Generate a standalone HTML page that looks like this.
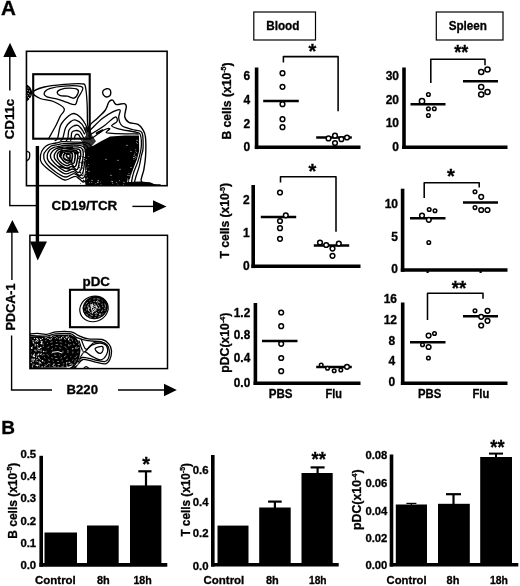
<!DOCTYPE html>
<html lang="en"><head><meta charset="utf-8"><title>Figure</title>
<style>
html,body{margin:0;padding:0;background:#fff;}
svg{display:block;font-family:"Liberation Sans", Arial, Helvetica, sans-serif;}
svg text{fill:#000;stroke:#000;stroke-width:0.3px;}
</style></head>
<body>
<svg width="520" height="586" viewBox="0 0 520 586">
<rect x="0" y="0" width="520" height="586" fill="#fff"/>
<defs><clipPath id="clip1"><rect x="26" y="51" width="141.5" height="135.4"/></clipPath><clipPath id="clip2"><rect x="29.8" y="235" width="137.7" height="133.7"/></clipPath></defs>
<g clip-path="url(#clip1)">
<path d="M48.8,138.4 C49.2,137.8 49.7,136.7 51.0,134.4 C52.2,132.1 54.8,127.7 56.3,124.8 C57.8,121.8 58.8,119.2 60.1,116.5 C61.4,113.8 65.3,111.2 64.2,108.7 C63.1,106.2 57.4,103.2 53.4,101.5 C49.4,99.8 43.5,100.0 40.2,98.5 C36.8,96.9 32.5,94.0 33.2,92.1 C33.9,90.2 39.1,88.3 44.3,87.0 C49.5,85.8 58.1,85.0 64.4,84.4 C70.8,83.9 78.6,83.5 82.1,83.9 C85.6,84.2 84.5,83.4 85.4,86.7 C86.2,90.0 86.8,97.8 87.1,103.6 C87.5,109.3 87.2,116.5 87.4,121.0 C87.6,125.5 88.3,128.9 88.4,130.5" fill="none" stroke="#000" stroke-width="1.3" stroke-linejoin="round" stroke-linecap="round"/>
<path d="M44.3,92.8 C44.7,91.5 46.3,89.7 49.6,88.6 C52.9,87.5 59.0,86.4 64.2,86.1 C69.3,85.7 77.6,85.7 80.6,86.4 C83.6,87.1 82.9,88.3 82.4,90.2 C81.9,92.2 79.0,95.8 77.8,98.2 C76.6,100.6 77.0,103.9 75.2,104.6 C73.4,105.3 69.9,103.4 67.0,102.4 C64.0,101.5 60.9,100.0 57.6,99.1 C54.3,98.1 49.2,97.8 47.0,96.8 C44.8,95.8 43.8,94.2 44.3,92.8Z" fill="none" stroke="#000" stroke-width="1.3" stroke-linejoin="round" stroke-linecap="round"/>
<path d="M57.2,92.7 C57.2,91.7 58.2,90.4 60.3,89.6 C62.3,88.9 66.7,88.2 69.6,88.2 C72.5,88.2 76.2,88.7 77.6,89.6 C79.0,90.5 78.5,92.2 77.9,93.6 C77.3,95.1 75.8,97.8 74.0,98.2 C72.2,98.6 69.5,96.7 67.2,96.2 C64.9,95.8 62.0,96.2 60.3,95.6 C58.7,95.0 57.3,93.7 57.2,92.7Z" fill="none" stroke="#000" stroke-width="1.3" stroke-linejoin="round" stroke-linecap="round"/>
<path d="M55.2,140.5 C55.6,140.2 56.7,141.0 57.6,138.4 C58.5,135.8 59.0,128.7 60.8,124.9 C62.6,121.2 66.3,117.9 68.5,116.0 C70.7,114.1 72.0,113.3 74.0,113.5 C76.0,113.7 78.5,115.3 80.4,117.2 C82.4,119.1 84.4,122.4 85.7,124.8 C86.9,127.2 87.4,130.6 87.7,131.7" fill="none" stroke="#000" stroke-width="1.3" stroke-linejoin="round" stroke-linecap="round"/>
<path d="M60.8,140.4 C61.1,140.1 62.0,140.3 62.8,138.2 C63.6,136.1 64.3,130.6 65.6,127.8 C67.0,125.0 69.2,122.6 70.9,121.4 C72.6,120.1 74.0,119.6 75.8,120.1 C77.7,120.6 80.4,122.4 82.1,124.4 C83.7,126.3 85.2,130.6 85.8,131.9" fill="none" stroke="#000" stroke-width="1.3" stroke-linejoin="round" stroke-linecap="round"/>
<path d="M66.4,140.5 C66.7,140.1 67.5,139.8 67.9,138.1 C68.3,136.4 68.1,132.3 68.9,130.3 C69.8,128.4 71.5,127.1 73.0,126.3 C74.5,125.5 76.4,125.0 77.8,125.4 C79.3,125.9 80.5,127.7 81.7,129.1 C82.8,130.5 84.1,133.1 84.5,133.9" fill="none" stroke="#000" stroke-width="1.3" stroke-linejoin="round" stroke-linecap="round"/>
<path d="M70.7,140.4 C70.8,140.1 70.9,139.7 71.1,138.4 C71.3,137.0 71.2,133.6 71.9,132.3 C72.6,131.0 74.0,130.8 75.3,130.6 C76.5,130.4 78.3,130.7 79.4,131.3 C80.5,132.0 81.1,133.4 81.8,134.5 C82.6,135.7 83.5,137.7 83.8,138.4" fill="none" stroke="#000" stroke-width="1.3" stroke-linejoin="round" stroke-linecap="round"/>
<path d="M74.3,139.1 C74.5,138.4 74.7,135.9 75.4,135.1 C76.0,134.4 77.6,134.2 78.4,134.6 C79.2,135.0 79.7,136.7 80.3,137.6 C80.8,138.6 81.5,139.8 81.8,140.2" fill="none" stroke="#000" stroke-width="1.3" stroke-linejoin="round" stroke-linecap="round"/>
<path d="M26.5,84.5 C29.5,85.5 31.8,89 32.3,92.5 C31.8,96.5 29.5,100 26.5,101.5 Z" fill="#000"/>
<circle cx="28" cy="88" r="0.55" fill="#fff"/>
<circle cx="29.5" cy="91" r="0.55" fill="#fff"/>
<circle cx="28.2" cy="93.5" r="0.55" fill="#fff"/>
<circle cx="30" cy="95" r="0.55" fill="#fff"/>
<circle cx="28.5" cy="97.5" r="0.55" fill="#fff"/>
<circle cx="27.6" cy="90.5" r="0.55" fill="#fff"/>
<circle cx="29.4" cy="98.6" r="0.55" fill="#fff"/>
<circle cx="27.5" cy="95.8" r="0.55" fill="#fff"/>
<path d="M26.3,151.0 C26.8,151.3 28.8,151.8 29.4,152.6 C29.9,153.4 29.7,154.7 29.7,155.7 C29.6,156.7 29.6,157.7 29.1,158.6 C28.6,159.5 27.1,160.6 26.7,161.0" fill="none" stroke="#000" stroke-width="1.3" stroke-linejoin="round" stroke-linecap="round"/>
<path d="M106.8,88.7 C107.8,88.6 109.1,88.9 109.8,89.6 C110.5,90.3 110.8,91.6 110.8,92.7 C110.8,93.7 110.5,95.1 109.8,95.8 C109.0,96.6 107.2,97.1 106.2,97.0 C105.1,96.9 104.2,96.0 103.6,95.2 C103.0,94.4 102.6,93.0 102.6,92.2 C102.7,91.3 103.1,90.6 103.8,90.0 C104.5,89.5 105.8,88.8 106.8,88.7Z" fill="none" stroke="#000" stroke-width="1.4" stroke-linejoin="round" stroke-linecap="round"/>
<path d="M40.6,154.9 C40.9,152.6 42.0,150.4 43.4,148.7 C44.7,147.0 46.4,145.6 48.5,144.7 C50.6,143.7 53.7,143.5 56.0,143.0 C58.3,142.5 59.4,141.9 62.4,141.7 C65.4,141.6 70.6,142.0 74.2,142.1 C77.8,142.2 81.5,142.0 84.2,142.5 C86.9,143.0 88.9,143.1 90.2,144.9 C91.5,146.7 91.9,149.8 91.8,153.3 C91.8,156.8 90.6,162.0 89.9,166.0 C89.2,170.0 88.8,174.5 87.7,177.2 C86.6,179.8 85.4,182.1 83.4,181.9 C81.3,181.8 78.5,176.6 75.5,176.3 C72.4,175.9 68.7,180.5 65.1,180.0 C61.4,179.5 57.5,176.2 53.6,173.3 C49.7,170.5 43.8,165.9 41.6,162.8 C39.5,159.8 40.3,157.3 40.6,154.9Z" fill="none" stroke="#000" stroke-width="1.3" stroke-linejoin="round" stroke-linecap="round"/>
<path d="M43.7,154.7 C43.9,152.7 45.4,151.4 46.7,149.9 C48.0,148.5 49.6,146.7 51.4,145.9 C53.2,145.0 55.7,144.9 57.7,144.6 C59.6,144.2 60.3,143.8 63.0,143.7 C65.6,143.5 70.4,143.7 73.6,143.7 C76.8,143.7 80.0,143.5 82.2,143.9 C84.5,144.4 86.0,144.7 87.1,146.3 C88.2,148.0 88.9,150.7 88.9,153.8 C89.0,156.9 88.2,161.4 87.6,165.0 C87.1,168.5 86.5,172.8 85.5,175.0 C84.5,177.2 83.7,178.7 81.8,178.4 C79.9,178.2 76.8,173.8 74.1,173.6 C71.4,173.3 68.7,177.4 65.5,177.0 C62.4,176.7 58.3,174.0 55.0,171.5 C51.6,169.0 47.3,165.0 45.5,162.2 C43.6,159.4 43.5,156.8 43.7,154.7Z" fill="none" stroke="#000" stroke-width="1.3" stroke-linejoin="round" stroke-linecap="round"/>
<path d="M47.3,155.1 C47.5,153.3 48.4,151.4 49.5,150.2 C50.6,148.9 52.4,148.0 54.0,147.3 C55.6,146.7 57.5,146.6 59.1,146.3 C60.8,146.0 61.7,145.7 64.0,145.5 C66.2,145.3 70.2,145.0 72.9,145.0 C75.5,145.0 78.0,145.0 80.0,145.4 C81.9,145.9 83.4,146.1 84.4,147.5 C85.4,148.9 86.0,151.1 86.0,153.8 C85.9,156.6 84.9,161.0 84.4,164.0 C83.9,167.1 83.8,170.1 83.0,172.1 C82.3,174.0 81.4,175.9 79.8,175.8 C78.2,175.7 75.8,171.9 73.5,171.6 C71.1,171.3 68.5,174.4 65.7,173.9 C63.0,173.5 60.0,170.9 57.1,168.8 C54.2,166.6 50.1,163.3 48.4,161.0 C46.8,158.7 47.1,156.9 47.3,155.1Z" fill="none" stroke="#000" stroke-width="1.3" stroke-linejoin="round" stroke-linecap="round"/>
<path d="M50.4,155.4 C50.5,153.9 51.6,152.4 52.5,151.3 C53.5,150.2 54.9,149.2 56.2,148.6 C57.5,148.0 59.1,147.7 60.5,147.5 C61.9,147.2 62.9,147.2 64.8,147.1 C66.6,147.0 69.5,146.9 71.7,146.9 C73.9,146.9 76.3,146.7 78.1,147.0 C79.8,147.3 81.4,147.5 82.2,148.8 C83.1,150.0 83.3,152.1 83.3,154.4 C83.4,156.7 82.7,160.0 82.3,162.5 C81.9,165.0 81.6,167.9 80.9,169.6 C80.1,171.3 79.3,172.7 78.0,172.6 C76.6,172.5 74.7,169.2 72.7,169.0 C70.7,168.8 68.4,171.7 66.2,171.4 C63.9,171.2 61.4,169.2 59.1,167.3 C56.7,165.5 53.4,162.2 52.0,160.2 C50.6,158.3 50.4,156.9 50.4,155.4Z" fill="none" stroke="#000" stroke-width="1.35" stroke-linejoin="round" stroke-linecap="round"/>
<path d="M54.2,155.6 C54.4,154.4 55.3,152.8 56.0,151.9 C56.6,150.9 57.2,150.3 58.1,149.8 C59.1,149.3 60.7,149.0 61.8,148.8 C63.0,148.6 63.5,148.6 65.1,148.6 C66.8,148.6 69.7,148.7 71.5,148.7 C73.3,148.8 74.8,148.7 76.2,148.9 C77.5,149.0 78.8,148.8 79.6,149.8 C80.3,150.8 80.8,152.8 80.8,154.8 C80.7,156.8 79.7,159.6 79.3,161.6 C78.9,163.7 78.8,165.7 78.4,167.1 C77.9,168.4 77.6,169.8 76.5,169.7 C75.4,169.6 73.3,166.7 71.7,166.5 C70.0,166.3 68.5,168.5 66.6,168.2 C64.8,168.0 62.5,166.4 60.5,164.9 C58.6,163.4 56.1,160.8 55.0,159.2 C54.0,157.7 54.1,156.8 54.2,155.6Z" fill="none" stroke="#000" stroke-width="1.4" stroke-linejoin="round" stroke-linecap="round"/>
<path d="M57.3,155.3 C57.3,154.3 57.6,153.5 58.2,152.8 C58.7,152.0 59.8,151.4 60.7,151.1 C61.5,150.7 62.3,150.8 63.2,150.7 C64.1,150.6 65.1,150.5 66.3,150.3 C67.5,150.2 69.1,149.8 70.4,149.8 C71.8,149.8 73.3,150.2 74.4,150.4 C75.5,150.5 76.4,150.2 76.9,150.9 C77.5,151.7 77.8,153.5 77.8,155.0 C77.9,156.6 77.6,158.3 77.3,160.0 C77.0,161.7 76.5,163.9 76.1,165.1 C75.6,166.2 75.4,167.0 74.5,166.8 C73.7,166.6 72.1,164.2 70.9,164.1 C69.7,163.9 68.6,165.8 67.2,165.7 C65.7,165.6 63.7,164.6 62.1,163.5 C60.6,162.3 58.7,160.4 57.9,159.0 C57.1,157.7 57.3,156.4 57.3,155.3Z" fill="none" stroke="#000" stroke-width="1.5" stroke-linejoin="round" stroke-linecap="round"/>
<path d="M60.1,155.7 C60.0,155.1 60.5,154.5 60.9,153.9 C61.4,153.3 62.1,152.5 62.7,152.2 C63.4,151.9 64.3,152.2 64.9,152.1 C65.6,151.9 65.7,151.3 66.6,151.2 C67.5,151.1 69.1,151.2 70.1,151.3 C71.1,151.3 72.0,151.2 72.7,151.4 C73.4,151.5 74.0,151.6 74.4,152.2 C74.8,152.8 75.1,153.8 75.2,154.9 C75.3,156.0 75.1,157.7 74.9,158.9 C74.7,160.2 74.5,161.5 74.2,162.3 C73.8,163.0 73.4,163.6 72.7,163.6 C72.1,163.5 71.1,161.9 70.3,161.8 C69.4,161.8 68.7,163.4 67.6,163.3 C66.5,163.2 65.0,162.2 63.9,161.3 C62.8,160.3 61.7,158.7 61.1,157.8 C60.4,156.8 60.1,156.4 60.1,155.7Z" fill="none" stroke="#000" stroke-width="1.6" stroke-linejoin="round" stroke-linecap="round"/>
<path d="M63.7,155.5 C63.7,155.0 63.8,154.9 64.0,154.6 C64.2,154.3 64.5,153.7 64.9,153.5 C65.3,153.3 66.0,153.5 66.4,153.5 C66.8,153.4 66.8,153.3 67.3,153.2 C67.9,153.1 69.0,153.1 69.6,153.0 C70.3,153.0 70.8,152.9 71.2,152.9 C71.6,153.0 71.9,152.9 72.1,153.3 C72.3,153.7 72.4,154.7 72.4,155.5 C72.5,156.2 72.3,156.9 72.2,157.7 C72.1,158.5 71.8,159.9 71.7,160.4 C71.6,161.0 71.8,161.3 71.5,161.2 C71.1,161.1 70.2,159.9 69.6,159.8 C68.9,159.7 68.4,160.7 67.7,160.7 C67.0,160.6 66.2,159.9 65.5,159.4 C64.8,158.9 63.8,158.2 63.5,157.6 C63.2,157.0 63.6,156.0 63.7,155.5Z" fill="none" stroke="#000" stroke-width="1.7" stroke-linejoin="round" stroke-linecap="round"/>
<path d="M66.6,155.7 C66.5,155.5 66.3,155.6 66.3,155.4 C66.4,155.2 66.6,154.7 66.8,154.5 C66.9,154.3 66.9,154.3 67.2,154.3 C67.4,154.3 67.7,154.3 68.0,154.3 C68.3,154.3 68.5,154.3 68.7,154.3 C69.0,154.3 69.2,154.1 69.4,154.2 C69.6,154.2 69.8,154.4 69.9,154.5 C70.0,154.7 70.0,154.8 70.1,155.2 C70.1,155.6 70.1,156.3 70.1,156.7 C70.1,157.2 70.2,157.8 70.1,158.1 C70.1,158.5 70.0,158.7 69.9,158.7 C69.7,158.7 69.5,158.3 69.2,158.3 C68.9,158.2 68.4,158.4 68.1,158.2 C67.9,158.1 67.9,157.7 67.6,157.4 C67.4,157.2 66.7,157.0 66.5,156.7 C66.3,156.4 66.6,155.9 66.6,155.7Z" fill="none" stroke="#000" stroke-width="1.6" stroke-linejoin="round" stroke-linecap="round"/>
<g transform="translate(0,1.3)">
<ellipse cx="61" cy="152" rx="1.6" ry="4.2" fill="#000" transform="rotate(15 61 152)"/>
<ellipse cx="76.5" cy="151.5" rx="2.6" ry="1.8" fill="#000"/>
<path d="M64,158 L72,160.5 M58,165 L70,168 M66,146.5 L73,146" stroke="#000" stroke-width="1.6" fill="none"/>
<circle cx="78.4" cy="177.2" r="0.76" fill="#000"/>
<circle cx="84.0" cy="173.7" r="0.73" fill="#000"/>
<circle cx="79.3" cy="166.3" r="0.63" fill="#000"/>
<circle cx="85.9" cy="176.2" r="0.74" fill="#000"/>
<circle cx="83.5" cy="179.2" r="0.69" fill="#000"/>
<circle cx="84.6" cy="156.0" r="0.46" fill="#000"/>
<circle cx="79.3" cy="160.6" r="0.49" fill="#000"/>
<circle cx="85.9" cy="167.5" r="0.67" fill="#000"/>
<circle cx="83.9" cy="171.8" r="0.62" fill="#000"/>
<circle cx="78.0" cy="175.9" r="0.71" fill="#000"/>
<circle cx="82.8" cy="166.7" r="0.68" fill="#000"/>
<circle cx="78.6" cy="173.8" r="0.54" fill="#000"/>
<circle cx="78.7" cy="157.3" r="0.71" fill="#000"/>
<circle cx="79.9" cy="173.9" r="0.79" fill="#000"/>
<circle cx="82.7" cy="161.4" r="0.62" fill="#000"/>
<circle cx="84.5" cy="174.8" r="0.67" fill="#000"/>
<circle cx="84.1" cy="150.7" r="0.50" fill="#000"/>
<circle cx="80.4" cy="174.0" r="0.56" fill="#000"/>
<circle cx="83.4" cy="148.4" r="0.47" fill="#000"/>
<circle cx="80.6" cy="171.5" r="0.69" fill="#000"/>
<circle cx="84.4" cy="158.2" r="0.63" fill="#000"/>
<circle cx="82.4" cy="164.3" r="0.49" fill="#000"/>
<circle cx="86.5" cy="155.0" r="0.79" fill="#000"/>
<circle cx="86.9" cy="148.6" r="0.61" fill="#000"/>
<circle cx="85.8" cy="181.9" r="0.61" fill="#000"/>
<circle cx="80.6" cy="155.3" r="0.78" fill="#000"/>
<circle cx="80.0" cy="168.4" r="0.50" fill="#000"/>
<circle cx="83.0" cy="181.3" r="0.50" fill="#000"/>
<circle cx="85.8" cy="165.8" r="0.76" fill="#000"/>
<circle cx="84.7" cy="156.1" r="0.76" fill="#000"/>
<circle cx="82.6" cy="148.9" r="0.45" fill="#000"/>
<circle cx="82.7" cy="163.8" r="0.56" fill="#000"/>
<circle cx="79.3" cy="160.0" r="0.56" fill="#000"/>
<circle cx="86.0" cy="148.1" r="0.71" fill="#000"/>
<circle cx="86.0" cy="152.2" r="0.77" fill="#000"/>
<circle cx="84.8" cy="179.6" r="0.55" fill="#000"/>
<circle cx="81.5" cy="161.8" r="0.80" fill="#000"/>
<circle cx="83.6" cy="160.6" r="0.60" fill="#000"/>
<circle cx="80.6" cy="149.7" r="0.49" fill="#000"/>
<circle cx="85.9" cy="158.0" r="0.78" fill="#000"/>
<circle cx="80.4" cy="157.3" r="0.63" fill="#000"/>
<circle cx="79.8" cy="161.1" r="0.78" fill="#000"/>
<circle cx="86.4" cy="176.4" r="0.67" fill="#000"/>
<circle cx="86.7" cy="180.9" r="0.64" fill="#000"/>
<circle cx="84.8" cy="149.7" r="0.71" fill="#000"/>
<circle cx="82.3" cy="174.3" r="0.68" fill="#000"/>
<circle cx="80.7" cy="149.7" r="0.77" fill="#000"/>
<circle cx="79.2" cy="164.5" r="0.57" fill="#000"/>
<circle cx="80.8" cy="173.9" r="0.79" fill="#000"/>
<circle cx="80.5" cy="171.0" r="0.56" fill="#000"/>
<circle cx="83.3" cy="161.8" r="0.51" fill="#000"/>
<circle cx="79.5" cy="155.3" r="0.77" fill="#000"/>
<circle cx="82.7" cy="155.7" r="0.77" fill="#000"/>
<circle cx="87.5" cy="163.7" r="0.50" fill="#000"/>
<circle cx="79.8" cy="151.2" r="0.57" fill="#000"/>
<circle cx="78.9" cy="156.4" r="0.54" fill="#000"/>
<circle cx="83.4" cy="179.1" r="0.71" fill="#000"/>
<circle cx="81.9" cy="162.5" r="0.63" fill="#000"/>
<circle cx="81.6" cy="159.8" r="0.47" fill="#000"/>
<circle cx="80.6" cy="181.9" r="0.49" fill="#000"/>
</g>
<path d="M88.8,127.2 C89.1,126.7 88.9,125.9 90.4,124.4 C91.9,122.8 95.2,120.3 97.7,117.9 C100.2,115.5 103.6,112.6 105.4,110.0 C107.3,107.4 107.6,103.8 108.8,102.2 C110.0,100.5 111.5,99.8 112.7,100.2 C113.9,100.6 114.1,103.9 116.1,104.5 C118.0,105.1 122.5,103.3 124.2,103.6 C125.9,104.0 126.3,104.4 126.3,106.5 C126.4,108.7 124.3,114.1 124.7,116.7 C125.1,119.3 126.5,121.0 128.8,122.3 C131.0,123.6 135.7,123.1 138.0,124.4 C140.4,125.7 141.8,127.7 143.0,129.9 C144.3,132.0 145.1,132.8 145.5,137.2 C145.9,141.5 145.9,150.6 145.6,156.0 C145.3,161.5 144.5,165.8 143.8,169.8 C143.0,173.9 141.1,178.0 141.1,180.1 C141.0,182.3 141.5,182.1 143.5,182.8 C145.5,183.6 150.3,184.2 153.1,184.6 C155.8,185.0 158.9,184.9 160.1,185.0" fill="none" stroke="#000" stroke-width="1.4" stroke-linejoin="round" stroke-linecap="round"/>
<path d="M88.8,131.2 C89.2,130.9 88.8,131.4 91.1,129.3 C93.3,127.2 98.6,121.5 102.3,118.6 C106.0,115.6 110.2,113.2 113.2,111.7 C116.2,110.3 119.2,108.9 120.1,109.9 C121.1,110.9 118.3,115.1 118.7,117.8 C119.0,120.5 119.7,124.0 122.4,126.1 C125.1,128.1 131.8,129.0 135.0,130.1 C138.3,131.2 140.6,129.6 141.9,132.5 C143.2,135.4 143.2,143.8 143.1,147.7 C143.0,151.6 142.0,152.9 141.3,156.0 C140.7,159.1 140.2,162.6 139.3,166.1 C138.4,169.5 136.8,173.8 135.9,176.8 C135.0,179.8 134.4,182.9 134.2,184.2" fill="none" stroke="#000" stroke-width="1.3" stroke-linejoin="round" stroke-linecap="round"/>
<path d="M89.1,135.5 C89.5,135.2 89.1,135.3 91.6,133.8 C94.0,132.2 100.0,128.8 103.9,126.0 C107.8,123.3 112.7,117.8 114.9,117.1 C117.1,116.3 117.7,119.9 117.1,121.4 C116.6,122.9 111.3,124.7 111.7,125.9 C112.1,127.2 115.5,128.0 119.6,129.1 C123.8,130.2 133.0,131.4 136.5,132.4 C139.9,133.3 139.6,132.4 140.4,134.9 C141.2,137.5 141.6,143.2 141.2,147.5 C140.8,151.9 139.3,156.9 138.0,161.1 C136.7,165.4 134.5,169.4 133.4,173.3 C132.2,177.2 131.5,182.6 131.1,184.5" fill="none" stroke="#000" stroke-width="1.3" stroke-linejoin="round" stroke-linecap="round"/>
<path d="M89.8,139.2 C90.8,138.6 93.5,137.1 95.9,135.5 C98.2,134.0 101.5,131.2 103.8,130.0 C106.1,128.9 109.4,128.2 109.8,128.6 C110.2,129.0 105.8,131.7 106.2,132.5 C106.6,133.3 106.8,133.1 112.1,133.3 C117.5,133.6 133.9,133.9 138.2,134.0" fill="none" stroke="#000" stroke-width="1.3" stroke-linejoin="round" stroke-linecap="round"/>
<path d="M96.3,133.0 C96.6,132.7 98.5,131.8 99.5,131.3 C100.6,130.7 102.3,129.6 102.6,129.7 C102.8,129.7 101.7,131.1 100.9,131.7 C100.1,132.3 98.6,133.0 97.8,133.3 C97.1,133.5 96.1,133.3 96.3,133.0Z" fill="none" stroke="#000" stroke-width="1.15" stroke-linejoin="round" stroke-linecap="round"/>
<polygon points="85.2,149.3 88,147.8 93.2,145.8 101,141.3 110.2,136.5 125,135.5 139,135.4 139.2,150.7 137,159.3 135,164.3 131.6,173.3 129,181.8 128,185.9 85.2,185.9" fill="#000"/>
<polygon points="84,127.3 90,127.3 92,135.3 96,141.3 90,148.3 84,149.3 82,141.3 86,135.3" fill="#000" opacity="0.8"/>
<polygon points="128,182 140,181.6 150,182.2 154,184 156.5,185 156.5,186 128,186" fill="#000"/>
<g transform="translate(0,1.3)">
<circle cx="106" cy="158" r="0.55" fill="#fff"/>
<circle cx="118" cy="159" r="0.55" fill="#fff"/>
<circle cx="111" cy="174" r="0.55" fill="#fff"/>
<circle cx="127" cy="144" r="0.55" fill="#fff"/>
<circle cx="131" cy="150" r="0.55" fill="#fff"/>
<circle cx="134" cy="156" r="0.55" fill="#fff"/>
<circle cx="131" cy="166" r="0.55" fill="#fff"/>
<circle cx="128" cy="174" r="0.55" fill="#fff"/>
<circle cx="124" cy="181" r="0.55" fill="#fff"/>
<circle cx="112" cy="180" r="0.55" fill="#fff"/>
<circle cx="98" cy="181" r="0.55" fill="#fff"/>
<circle cx="92" cy="179" r="0.55" fill="#fff"/>
<circle cx="89" cy="170" r="0.55" fill="#fff"/>
<circle cx="120" cy="168" r="0.55" fill="#fff"/>
<circle cx="137" cy="139" r="0.55" fill="#fff"/>
<circle cx="134.9" cy="151.8" r="0.45" fill="#fff"/>
<circle cx="127.4" cy="180.1" r="0.45" fill="#fff"/>
<circle cx="127.6" cy="180.5" r="0.45" fill="#fff"/>
<circle cx="135.8" cy="155.0" r="0.45" fill="#fff"/>
<circle cx="129.8" cy="174.5" r="0.45" fill="#fff"/>
<circle cx="137.7" cy="142.1" r="0.45" fill="#fff"/>
<circle cx="136.0" cy="155.7" r="0.45" fill="#fff"/>
<circle cx="135.8" cy="148.1" r="0.45" fill="#fff"/>
<circle cx="127.6" cy="177.7" r="0.45" fill="#fff"/>
<circle cx="135.2" cy="157.3" r="0.45" fill="#fff"/>
<circle cx="129.0" cy="172.2" r="0.45" fill="#fff"/>
<circle cx="136.4" cy="141.5" r="0.45" fill="#fff"/>
<circle cx="128.2" cy="178.6" r="0.45" fill="#fff"/>
<circle cx="132.2" cy="171.4" r="0.45" fill="#fff"/>
<circle cx="134.1" cy="154.2" r="0.45" fill="#fff"/>
<circle cx="129.1" cy="180.2" r="0.45" fill="#fff"/>
<circle cx="136.4" cy="151.0" r="0.45" fill="#fff"/>
<circle cx="134.3" cy="153.3" r="0.45" fill="#fff"/>
<circle cx="139.1" cy="140.2" r="0.45" fill="#fff"/>
<circle cx="129.6" cy="178.5" r="0.45" fill="#fff"/>
<circle cx="127.2" cy="179.6" r="0.45" fill="#fff"/>
<circle cx="135.8" cy="149.8" r="0.45" fill="#fff"/>
<circle cx="130.3" cy="180.2" r="0.45" fill="#fff"/>
<circle cx="133.5" cy="156.2" r="0.45" fill="#fff"/>
<circle cx="133.9" cy="158.1" r="0.45" fill="#fff"/>
<circle cx="127.9" cy="179.0" r="0.45" fill="#fff"/>
<circle cx="131.1" cy="173.7" r="0.45" fill="#fff"/>
<circle cx="131.0" cy="174.6" r="0.45" fill="#fff"/>
<circle cx="112.3" cy="180.5" r="0.45" fill="#fff"/>
<circle cx="100.8" cy="180.6" r="0.45" fill="#fff"/>
<circle cx="119.3" cy="179.4" r="0.45" fill="#fff"/>
<circle cx="95.9" cy="182.4" r="0.45" fill="#fff"/>
<circle cx="97.9" cy="179.3" r="0.45" fill="#fff"/>
<circle cx="89.4" cy="181.5" r="0.45" fill="#fff"/>
<circle cx="101.0" cy="183.4" r="0.45" fill="#fff"/>
<circle cx="123.3" cy="183.4" r="0.45" fill="#fff"/>
<circle cx="98.6" cy="179.4" r="0.45" fill="#fff"/>
<circle cx="91.9" cy="181.2" r="0.45" fill="#fff"/>
<circle cx="116.4" cy="181.0" r="0.45" fill="#fff"/>
<circle cx="97.4" cy="180.9" r="0.45" fill="#fff"/>
<circle cx="112.8" cy="182.0" r="0.45" fill="#fff"/>
<circle cx="117.9" cy="182.8" r="0.45" fill="#fff"/>
<circle cx="85.9" cy="171.9" r="0.45" fill="#fff"/>
<circle cx="86.4" cy="177.7" r="0.45" fill="#fff"/>
<circle cx="86.6" cy="168.7" r="0.45" fill="#fff"/>
<circle cx="86.1" cy="174.4" r="0.45" fill="#fff"/>
<circle cx="86.2" cy="158.2" r="0.45" fill="#fff"/>
<circle cx="88.2" cy="155.1" r="0.45" fill="#fff"/>
<circle cx="86.5" cy="169.1" r="0.45" fill="#fff"/>
<circle cx="88.5" cy="163.1" r="0.45" fill="#fff"/>
<circle cx="86.2" cy="166.7" r="0.45" fill="#fff"/>
<circle cx="87.5" cy="176.7" r="0.45" fill="#fff"/>
<circle cx="85.8" cy="182.7" r="0.45" fill="#fff"/>
<circle cx="88.0" cy="165.7" r="0.45" fill="#fff"/>
</g>
</g>
<g clip-path="url(#clip2)">
<path d="M29.2,333.9 C30.6,333.8 34.9,333.3 37.8,333.4 C40.7,333.5 43.6,334.6 46.6,334.3 C49.6,334.1 51.5,332.4 55.6,331.9 C59.7,331.5 67.5,331.3 71.2,331.8 C75.0,332.4 75.3,334.2 78.1,335.4 C80.9,336.6 84.1,338.3 88.2,338.9 C92.2,339.6 98.8,338.6 102.3,339.5 C105.8,340.4 107.5,342.2 109.0,344.1 C110.6,346.0 111.3,348.4 111.5,350.9 C111.6,353.5 110.8,357.3 109.8,359.5 C108.8,361.6 107.9,363.5 105.5,363.9 C103.1,364.4 99.0,362.8 95.3,362.1 C91.5,361.3 86.0,358.8 82.9,359.5 C79.7,360.2 78.4,364.7 76.3,366.3 C74.1,368.0 71.0,368.9 69.9,369.4" fill="none" stroke="#000" stroke-width="1.3" stroke-linejoin="round" stroke-linecap="round"/>
<path d="M29.1,335.5 C32.1,335.6 42.2,336.4 46.6,336.1 C50.9,335.8 51.4,334.3 55.3,333.9 C59.3,333.5 66.6,333.1 70.1,333.7 C73.6,334.3 73.4,336.1 76.3,337.3 C79.2,338.5 83.3,339.9 87.5,340.7 C91.6,341.4 98.1,341.1 101.4,341.8 C104.7,342.6 105.8,343.5 107.1,345.0 C108.4,346.6 109.2,348.7 109.4,351.0 C109.6,353.3 109.0,357.1 108.2,358.8 C107.4,360.6 106.7,361.5 104.5,361.6 C102.4,361.8 99.1,360.6 95.3,360.0 C91.6,359.3 85.5,356.6 82.1,357.5 C78.6,358.4 76.8,363.1 74.5,365.2 C72.1,367.2 69.0,368.9 68.0,369.7" fill="none" stroke="#000" stroke-width="1.3" stroke-linejoin="round" stroke-linecap="round"/>
<path d="M79.0,340.8 C79.8,342.7 81.6,351.1 83.8,351.8 C85.9,352.5 88.7,346.5 91.8,345.1 C94.8,343.7 99.3,342.9 101.9,343.3 C104.5,343.7 106.5,345.5 107.2,347.5 C108.0,349.5 107.4,353.1 106.2,355.2 C105.1,357.2 102.9,359.7 100.4,359.8 C98.0,360.0 94.2,357.4 91.5,356.1 C88.8,354.8 86.3,351.1 84.2,352.0 C82.0,353.0 79.3,360.2 78.3,361.8" fill="none" stroke="#000" stroke-width="1.3" stroke-linejoin="round" stroke-linecap="round"/>
<path d="M81.2,339.2 C82.0,340.9 84.0,348.7 86.0,349.3 C88.0,349.9 90.7,344.2 93.2,342.9 C95.7,341.7 99.9,342.1 101.2,342.0" fill="none" stroke="#000" stroke-width="1.15" stroke-linejoin="round" stroke-linecap="round"/>
<path d="M95.4,348.2 C96.3,347.3 101.0,346.1 102.2,346.5 C103.5,346.8 103.2,349.0 103.0,350.2 C102.7,351.3 101.6,353.1 100.6,353.3 C99.5,353.6 97.7,352.6 96.9,351.7 C96.0,350.9 94.5,349.1 95.4,348.2Z" fill="none" stroke="#000" stroke-width="1.3" stroke-linejoin="round" stroke-linecap="round"/>
<path d="M72.0,367.9 C72.3,367.5 73.1,365.3 73.8,365.4 C74.5,365.4 75.7,367.7 76.1,368.2" fill="none" stroke="#000" stroke-width="1.15" stroke-linejoin="round" stroke-linecap="round"/>
<path d="M83.8,368.3 C84.2,368.0 85.3,366.6 86.1,366.6 C86.9,366.5 88.2,367.9 88.7,368.1" fill="none" stroke="#000" stroke-width="1.15" stroke-linejoin="round" stroke-linecap="round"/>
<polygon points="30,336.5 40,336 47,337 55.4,334.8 70,334.6 76,337.5 79.5,343 80.5,351 79,360 75,364.5 66,367.5 30,368" fill="#000"/>
<circle cx="38.8" cy="354.0" r="0.65" fill="#fff"/>
<circle cx="35.0" cy="350.2" r="0.63" fill="#fff"/>
<circle cx="36.5" cy="357.1" r="0.58" fill="#fff"/>
<circle cx="36.7" cy="338.7" r="0.65" fill="#fff"/>
<circle cx="37.4" cy="344.8" r="0.71" fill="#fff"/>
<circle cx="41.1" cy="351.3" r="0.47" fill="#fff"/>
<circle cx="37.2" cy="341.1" r="0.45" fill="#fff"/>
<circle cx="36.6" cy="340.7" r="0.58" fill="#fff"/>
<circle cx="37.6" cy="339.2" r="0.65" fill="#fff"/>
<circle cx="32.1" cy="359.3" r="0.71" fill="#fff"/>
<circle cx="37.6" cy="339.6" r="0.60" fill="#fff"/>
<circle cx="35.9" cy="365.6" r="0.45" fill="#fff"/>
<circle cx="42.1" cy="366.9" r="0.69" fill="#fff"/>
<circle cx="41.6" cy="343.6" r="0.79" fill="#fff"/>
<circle cx="37.4" cy="365.7" r="0.77" fill="#fff"/>
<circle cx="33.1" cy="360.9" r="0.77" fill="#fff"/>
<circle cx="31.9" cy="348.2" r="0.70" fill="#fff"/>
<circle cx="33.1" cy="364.0" r="0.51" fill="#fff"/>
<circle cx="41.6" cy="342.2" r="0.60" fill="#fff"/>
<circle cx="43.0" cy="344.0" r="0.51" fill="#fff"/>
<circle cx="37.6" cy="347.3" r="0.41" fill="#fff"/>
<circle cx="33.4" cy="342.7" r="0.77" fill="#fff"/>
<circle cx="39.8" cy="364.0" r="0.47" fill="#fff"/>
<circle cx="41.2" cy="341.3" r="0.61" fill="#fff"/>
<circle cx="39.3" cy="348.4" r="0.75" fill="#fff"/>
<circle cx="38.2" cy="354.8" r="0.75" fill="#fff"/>
<circle cx="32.4" cy="366.8" r="0.65" fill="#fff"/>
<circle cx="36.1" cy="361.1" r="0.51" fill="#fff"/>
<circle cx="43.9" cy="354.7" r="0.54" fill="#fff"/>
<circle cx="40.9" cy="350.8" r="0.47" fill="#fff"/>
<circle cx="40.7" cy="339.4" r="0.73" fill="#fff"/>
<circle cx="34.3" cy="356.5" r="0.79" fill="#fff"/>
<circle cx="38.6" cy="357.2" r="0.53" fill="#fff"/>
<circle cx="31.0" cy="339.0" r="0.46" fill="#fff"/>
<circle cx="39.0" cy="350.5" r="0.61" fill="#fff"/>
<circle cx="42.6" cy="341.8" r="0.49" fill="#fff"/>
<circle cx="39.5" cy="338.6" r="0.40" fill="#fff"/>
<circle cx="35.6" cy="341.1" r="0.54" fill="#fff"/>
<circle cx="33.9" cy="354.9" r="0.64" fill="#fff"/>
<circle cx="33.7" cy="356.1" r="0.59" fill="#fff"/>
<circle cx="32.8" cy="365.2" r="0.50" fill="#fff"/>
<circle cx="32.9" cy="340.8" r="0.66" fill="#fff"/>
<circle cx="42.3" cy="360.7" r="0.56" fill="#fff"/>
<circle cx="34.4" cy="338.3" r="0.66" fill="#fff"/>
<circle cx="38.3" cy="348.2" r="0.66" fill="#fff"/>
<circle cx="36.8" cy="365.2" r="0.69" fill="#fff"/>
<circle cx="34.2" cy="364.2" r="0.42" fill="#fff"/>
<circle cx="37.9" cy="349.8" r="0.50" fill="#fff"/>
<circle cx="31.8" cy="360.6" r="0.40" fill="#fff"/>
<circle cx="38.2" cy="365.3" r="0.46" fill="#fff"/>
<circle cx="33.6" cy="355.6" r="0.60" fill="#fff"/>
<circle cx="39.3" cy="361.6" r="0.47" fill="#fff"/>
<circle cx="35.0" cy="346.7" r="0.42" fill="#fff"/>
<circle cx="42.6" cy="360.7" r="0.69" fill="#fff"/>
<circle cx="31.1" cy="362.5" r="0.70" fill="#fff"/>
<circle cx="37.0" cy="359.5" r="0.58" fill="#fff"/>
<circle cx="33.9" cy="341.1" r="0.49" fill="#fff"/>
<circle cx="31.5" cy="347.7" r="0.70" fill="#fff"/>
<circle cx="40.0" cy="362.5" r="0.68" fill="#fff"/>
<circle cx="34.5" cy="354.1" r="0.57" fill="#fff"/>
<circle cx="41.2" cy="353.2" r="0.51" fill="#fff"/>
<circle cx="39.3" cy="366.0" r="0.49" fill="#fff"/>
<circle cx="42.4" cy="338.4" r="0.50" fill="#fff"/>
<circle cx="34.1" cy="359.6" r="0.78" fill="#fff"/>
<circle cx="40.7" cy="347.5" r="0.75" fill="#fff"/>
<circle cx="35.3" cy="344.9" r="0.76" fill="#fff"/>
<circle cx="39.2" cy="358.1" r="0.67" fill="#fff"/>
<circle cx="43.7" cy="351.6" r="0.74" fill="#fff"/>
<circle cx="40.1" cy="362.9" r="0.57" fill="#fff"/>
<circle cx="40.4" cy="354.5" r="0.52" fill="#fff"/>
<circle cx="51.4" cy="338.5" r="0.39" fill="#fff"/>
<circle cx="44.9" cy="366.6" r="0.59" fill="#fff"/>
<circle cx="68.5" cy="336.1" r="0.52" fill="#fff"/>
<circle cx="69.8" cy="364.5" r="0.40" fill="#fff"/>
<circle cx="77.4" cy="365.0" r="0.38" fill="#fff"/>
<circle cx="51.2" cy="336.4" r="0.56" fill="#fff"/>
<circle cx="66.1" cy="337.1" r="0.55" fill="#fff"/>
<circle cx="66.6" cy="363.0" r="0.36" fill="#fff"/>
<circle cx="53.0" cy="365.3" r="0.58" fill="#fff"/>
<circle cx="70.9" cy="363.9" r="0.50" fill="#fff"/>
<circle cx="45.1" cy="337.7" r="0.44" fill="#fff"/>
<circle cx="68.7" cy="338.2" r="0.49" fill="#fff"/>
<circle cx="54.0" cy="364.1" r="0.54" fill="#fff"/>
<circle cx="78.2" cy="363.9" r="0.52" fill="#fff"/>
<circle cx="72.9" cy="364.6" r="0.49" fill="#fff"/>
<circle cx="49.6" cy="339.3" r="0.47" fill="#fff"/>
<circle cx="47.8" cy="338.5" r="0.51" fill="#fff"/>
<circle cx="56.4" cy="337.6" r="0.46" fill="#fff"/>
<circle cx="66.6" cy="362.8" r="0.58" fill="#fff"/>
<circle cx="61.5" cy="337.5" r="0.59" fill="#fff"/>
<circle cx="48.4" cy="338.4" r="0.44" fill="#fff"/>
<circle cx="55.4" cy="366.1" r="0.39" fill="#fff"/>
<circle cx="59.4" cy="339.1" r="0.43" fill="#fff"/>
<circle cx="66.5" cy="364.0" r="0.43" fill="#fff"/>
<circle cx="68.6" cy="339.4" r="0.59" fill="#fff"/>
<circle cx="69.3" cy="338.4" r="0.43" fill="#fff"/>
<circle cx="50.6" cy="339.9" r="0.39" fill="#fff"/>
<circle cx="67.0" cy="336.8" r="0.55" fill="#fff"/>
<circle cx="69.7" cy="337.7" r="0.42" fill="#fff"/>
<circle cx="75.0" cy="361.1" r="0.52" fill="#fff"/>
<circle cx="61.5" cy="338.5" r="0.41" fill="#fff"/>
<circle cx="69.8" cy="362.5" r="0.53" fill="#fff"/>
<circle cx="64.6" cy="338.6" r="0.52" fill="#fff"/>
<circle cx="66.5" cy="337.8" r="0.57" fill="#fff"/>
<circle cx="52.5" cy="337.6" r="0.41" fill="#fff"/>
<circle cx="58.8" cy="364.7" r="0.48" fill="#fff"/>
<circle cx="67.1" cy="366.4" r="0.54" fill="#fff"/>
<circle cx="57.6" cy="338.0" r="0.41" fill="#fff"/>
<circle cx="51.6" cy="338.9" r="0.48" fill="#fff"/>
<circle cx="47.5" cy="364.2" r="0.48" fill="#fff"/>
<circle cx="75.0" cy="357.4" r="0.45" fill="#fff"/>
<circle cx="73.7" cy="348.6" r="0.45" fill="#fff"/>
<circle cx="78.4" cy="344.4" r="0.45" fill="#fff"/>
<circle cx="75.5" cy="348.2" r="0.45" fill="#fff"/>
<circle cx="76.4" cy="342.6" r="0.45" fill="#fff"/>
<circle cx="78.8" cy="347.5" r="0.45" fill="#fff"/>
<circle cx="68.6" cy="345.8" r="0.45" fill="#fff"/>
<circle cx="72.4" cy="340.3" r="0.45" fill="#fff"/>
<circle cx="72.6" cy="348.8" r="0.45" fill="#fff"/>
<circle cx="75.7" cy="347.4" r="0.45" fill="#fff"/>
<circle cx="70.9" cy="344.7" r="0.45" fill="#fff"/>
<circle cx="76.2" cy="359.7" r="0.45" fill="#fff"/>
<circle cx="73.8" cy="344.6" r="0.45" fill="#fff"/>
<circle cx="76.8" cy="348.2" r="0.45" fill="#fff"/>
<path d="M52,352.3 L58,351.6 L62,353" stroke="#fff" stroke-width="1" fill="none"/>
<ellipse cx="57" cy="351.5" rx="6" ry="4" fill="none" stroke="#fff" stroke-width="0.55" stroke-dasharray="2 2.5 1 3"/>
<ellipse cx="57" cy="351.5" rx="11" ry="7" fill="none" stroke="#fff" stroke-width="0.55" stroke-dasharray="1.5 3 2.5 2.2"/>
<ellipse cx="57" cy="351.5" rx="16" ry="10" fill="none" stroke="#fff" stroke-width="0.55" stroke-dasharray="2 3.4 1.2 2.6"/>
<ellipse cx="57" cy="351.5" rx="21" ry="13" fill="none" stroke="#fff" stroke-width="0.55" stroke-dasharray="1.4 2.8 2.4 3.2"/>
<ellipse cx="57" cy="351.5" rx="26" ry="15.2" fill="none" stroke="#fff" stroke-width="0.55" stroke-dasharray="2.2 3 1 2.4"/>
</g>
<g transform="rotate(-20 94.0 308.9)">
<ellipse cx="94.0" cy="308.9" rx="14.4" ry="12.6" fill="none" stroke="#000" stroke-width="1.2"/>
</g>
<g transform="rotate(-20 95.2 307.7)">
<ellipse cx="95.2" cy="307.7" rx="12.4" ry="11.0" fill="#000" stroke="#000" stroke-width="0.8"/>
<ellipse cx="94.9" cy="308.09999999999997" rx="10.6" ry="9.3" fill="none" stroke="#fff" stroke-width="0.5" stroke-dasharray="3 2.2 1.2 3.1 2 1.4"/>
<ellipse cx="94.60000000000001" cy="308.3" rx="8.2" ry="7.0" fill="none" stroke="#fff" stroke-width="0.55" stroke-dasharray="1.6 2.4 2.8 1.9 1 2.6"/>
<ellipse cx="94.0" cy="308.5" rx="5.6" ry="4.8" fill="none" stroke="#fff" stroke-width="0.6" stroke-dasharray="2.2 1.6 1.1 2.3"/>
</g>
<path d="M90.7,304.59999999999997 L96.89999999999999,307.4 L92.5,312.79999999999995 L90.7,304.59999999999997 M91.7,306.79999999999995 L94.5,308.59999999999997 L92.5,310.4" fill="none" stroke="#fff" stroke-width="0.9" stroke-linejoin="round"/>
<path d="M94.8,304.2 L98.5,309.0 M95.5,311.79999999999995 L97.7,313.59999999999997 M88.1,306.2 L88.7,311.0" fill="none" stroke="#fff" stroke-width="0.7"/>
<circle cx="95.9" cy="310.2" r="0.54" fill="#fff"/>
<circle cx="97.8" cy="302.1" r="0.47" fill="#fff"/>
<circle cx="91.7" cy="306.5" r="0.59" fill="#fff"/>
<circle cx="90.9" cy="312.5" r="0.55" fill="#fff"/>
<circle cx="97.5" cy="303.2" r="0.42" fill="#fff"/>
<circle cx="92.3" cy="306.9" r="0.56" fill="#fff"/>
<circle cx="89.8" cy="313.6" r="0.42" fill="#fff"/>
<circle cx="92.3" cy="310.1" r="0.46" fill="#fff"/>
<circle cx="96.0" cy="309.3" r="0.53" fill="#fff"/>
<circle cx="94.4" cy="311.0" r="0.43" fill="#fff"/>
<circle cx="89.8" cy="308.3" r="0.51" fill="#fff"/>
<circle cx="92.6" cy="304.2" r="0.58" fill="#fff"/>
<circle cx="96.7" cy="306.0" r="0.56" fill="#fff"/>
<circle cx="102.1" cy="303.8" r="0.39" fill="#fff"/>
<circle cx="98.7" cy="302.5" r="0.35" fill="#fff"/>
<circle cx="104.8" cy="308.3" r="0.51" fill="#fff"/>
<circle cx="95.2" cy="310.1" r="0.39" fill="#fff"/>
<circle cx="96.0" cy="314.6" r="0.44" fill="#fff"/>
<circle cx="100.5" cy="314.1" r="0.55" fill="#fff"/>
<circle cx="99.7" cy="314.5" r="0.50" fill="#fff"/>
<circle cx="96.6" cy="301.6" r="0.57" fill="#fff"/>
<circle cx="97.3" cy="300.5" r="0.40" fill="#fff"/>
<text x="0.9" y="15.4" font-size="19.5" font-weight="bold" text-anchor="start" textLength="14.9" lengthAdjust="spacingAndGlyphs" >A</text>
<rect x="26.45" y="51.3" width="140.65" height="134.4" fill="none" stroke="#000" stroke-width="1.6"/>
<polygon points="10,42.7 3.3,57 16.7,57" fill="#000"/>
<line x1="9.8" y1="56" x2="9.8" y2="90.5" stroke="#000" stroke-width="1.4" stroke-linecap="butt"/>
<text transform="translate(14.2,139.2) rotate(-90)" font-size="13" font-weight="bold" text-anchor="start" textLength="40.4" lengthAdjust="spacingAndGlyphs">CD11c</text>
<line x1="9.8" y1="150.4" x2="9.8" y2="205.6" stroke="#000" stroke-width="1.4" stroke-linecap="butt"/>
<line x1="9.1" y1="205.6" x2="37" y2="205.6" stroke="#000" stroke-width="1.4" stroke-linecap="butt"/>
<text x="51.6" y="210.3" font-size="13" font-weight="bold" text-anchor="start" textLength="65.7" lengthAdjust="spacingAndGlyphs" >CD19/TCR</text>
<line x1="132.4" y1="206.4" x2="154" y2="206.4" stroke="#000" stroke-width="1.4" stroke-linecap="butt"/>
<polygon points="166.5,206.4 153,200.2 153,212.8" fill="#000"/>
<rect x="33.2" y="74.2" width="56.5" height="64.5" fill="none" stroke="#000" stroke-width="2.1"/>
<line x1="37.4" y1="146" x2="37.4" y2="243" stroke="#000" stroke-width="3.4" stroke-linecap="butt"/>
<polygon points="30,241.5 47,241.5 37.7,260.5" fill="#000"/>
<rect x="29.9" y="235.3" width="137.6" height="133.3" fill="none" stroke="#000" stroke-width="1.5"/>
<polygon points="12.4,220 6,232.8 18.8,232.8" fill="#000"/>
<line x1="11.9" y1="232" x2="11.9" y2="280" stroke="#000" stroke-width="1.4" stroke-linecap="butt"/>
<text transform="translate(15,330.4) rotate(-90)" font-size="13" font-weight="bold" text-anchor="start" textLength="47" lengthAdjust="spacingAndGlyphs">PDCA-1</text>
<line x1="11.6" y1="335.5" x2="11.6" y2="390" stroke="#000" stroke-width="1.4" stroke-linecap="butt"/>
<line x1="10.9" y1="390" x2="52" y2="390" stroke="#000" stroke-width="1.4" stroke-linecap="butt"/>
<text x="66.5" y="393.7" font-size="13" font-weight="bold" text-anchor="start" textLength="31.5" lengthAdjust="spacingAndGlyphs" >B220</text>
<line x1="118" y1="390" x2="165" y2="390" stroke="#000" stroke-width="1.4" stroke-linecap="butt"/>
<polygon points="176.8,390 164,383.8 164,396.2" fill="#000"/>
<rect x="70" y="289.8" width="48.6" height="37.4" fill="none" stroke="#000" stroke-width="2.1"/>
<text x="82.5" y="286" font-size="12.5" font-weight="bold" text-anchor="start" textLength="27.5" lengthAdjust="spacingAndGlyphs" >pDC</text>
<rect x="253.8" y="12" width="61.7" height="28" fill="none" stroke="#000" stroke-width="1.2"/>
<text x="266.2" y="30" font-size="12" font-weight="bold" text-anchor="start" textLength="33.3" lengthAdjust="spacingAndGlyphs" >Blood</text>
<rect x="436.3" y="12" width="66.7" height="28" fill="none" stroke="#000" stroke-width="1.2"/>
<text x="448.7" y="30" font-size="12" font-weight="bold" text-anchor="start" textLength="38.3" lengthAdjust="spacingAndGlyphs" >Spleen</text>
<text x="312.5" y="57.5" font-size="20" font-weight="bold" text-anchor="middle" >*</text>
<path d="M283.4,62.5 L283.4,56.6 L338.1,56.6 L338.1,111.2" fill="none" stroke="#000" stroke-width="1.55" stroke-linejoin="round" stroke-linejoin="miter"/>
<line x1="256.6" y1="67.5" x2="256.6" y2="149.10000000000002" stroke="#000" stroke-width="3.6" stroke-linecap="butt"/>
<line x1="254.8" y1="147.3" x2="360.5" y2="147.3" stroke="#000" stroke-width="3.6" stroke-linecap="butt"/>
<text x="250.3" y="80.2" font-size="12" font-weight="bold" text-anchor="end" >6</text>
<text x="250.3" y="104.2" font-size="12" font-weight="bold" text-anchor="end" >4</text>
<text x="250.3" y="127.7" font-size="12" font-weight="bold" text-anchor="end" >2</text>
<text x="250.3" y="150.7" font-size="12" font-weight="bold" text-anchor="end" >0</text>
<line x1="263.2" y1="101" x2="298.8" y2="101" stroke="#000" stroke-width="2.4" stroke-linecap="butt"/>
<circle cx="282.5" cy="73.2" r="2.35" fill="#fff" stroke="#000" stroke-width="1.5"/>
<circle cx="282.5" cy="86.8" r="2.35" fill="#fff" stroke="#000" stroke-width="1.5"/>
<circle cx="282.5" cy="104.2" r="2.35" fill="#fff" stroke="#000" stroke-width="1.5"/>
<circle cx="282.5" cy="119.2" r="2.35" fill="#fff" stroke="#000" stroke-width="1.5"/>
<circle cx="282.5" cy="127.2" r="2.35" fill="#fff" stroke="#000" stroke-width="1.5"/>
<line x1="316.2" y1="137.5" x2="351.8" y2="137.5" stroke="#000" stroke-width="2.4" stroke-linecap="butt"/>
<circle cx="328.5" cy="138.4" r="2.35" fill="#fff" stroke="#000" stroke-width="1.5"/>
<circle cx="335" cy="135.7" r="2.35" fill="#fff" stroke="#000" stroke-width="1.5"/>
<circle cx="335" cy="143" r="2.35" fill="#fff" stroke="#000" stroke-width="1.5"/>
<circle cx="341.4" cy="139.2" r="2.35" fill="#fff" stroke="#000" stroke-width="1.5"/>
<circle cx="347" cy="137.5" r="2.35" fill="#fff" stroke="#000" stroke-width="1.5"/>
<text transform="translate(230.7,139.5) rotate(-90)" font-size="12" font-weight="bold" text-anchor="start" textLength="77" lengthAdjust="spacingAndGlyphs">B cells (x10<tspan font-size="7" dy="-4.5">-5</tspan><tspan dy="4.5">)</tspan></text>
<text x="461.3" y="59.3" font-size="20" font-weight="bold" text-anchor="middle" textLength="14" lengthAdjust="spacingAndGlyphs" >**</text>
<path d="M430.8,83 L430.8,59.2 L485,59.2 L485,65.2" fill="none" stroke="#000" stroke-width="1.55" stroke-linejoin="round" stroke-linejoin="miter"/>
<line x1="404" y1="67.5" x2="404" y2="149.0" stroke="#000" stroke-width="3.6" stroke-linecap="butt"/>
<line x1="402.2" y1="147.2" x2="507.5" y2="147.2" stroke="#000" stroke-width="3.6" stroke-linecap="butt"/>
<text x="399" y="80.2" font-size="12" font-weight="bold" text-anchor="end" >30</text>
<text x="399" y="104.2" font-size="12" font-weight="bold" text-anchor="end" >20</text>
<text x="399" y="126.7" font-size="12" font-weight="bold" text-anchor="end" >10</text>
<text x="399" y="150.7" font-size="12" font-weight="bold" text-anchor="end" >0</text>
<line x1="410.5" y1="104.2" x2="445.5" y2="104.2" stroke="#000" stroke-width="2.4" stroke-linecap="butt"/>
<circle cx="428.4" cy="94.5" r="1.8" fill="#fff" stroke="#000" stroke-width="1.5"/>
<circle cx="422" cy="101.2" r="2.65" fill="#fff" stroke="#000" stroke-width="1.5"/>
<circle cx="428.4" cy="108.8" r="1.8" fill="#fff" stroke="#000" stroke-width="1.5"/>
<circle cx="434.3" cy="108.8" r="1.8" fill="#fff" stroke="#000" stroke-width="1.5"/>
<circle cx="428.4" cy="115.5" r="1.8" fill="#fff" stroke="#000" stroke-width="1.5"/>
<line x1="463" y1="81.2" x2="498" y2="81.2" stroke="#000" stroke-width="2.4" stroke-linecap="butt"/>
<circle cx="481.2" cy="72" r="2.5500000000000003" fill="#fff" stroke="#000" stroke-width="1.5"/>
<circle cx="487.5" cy="69.5" r="2.5500000000000003" fill="#fff" stroke="#000" stroke-width="1.5"/>
<circle cx="481.2" cy="87" r="2.5500000000000003" fill="#fff" stroke="#000" stroke-width="1.5"/>
<circle cx="481.2" cy="94.5" r="2.5500000000000003" fill="#fff" stroke="#000" stroke-width="1.5"/>
<circle cx="487.5" cy="92" r="2.5500000000000003" fill="#fff" stroke="#000" stroke-width="1.5"/>
<text x="312.5" y="178" font-size="20" font-weight="bold" text-anchor="middle" >*</text>
<path d="M280.5,182.5 L280.5,176.7 L336,176.7 L336,231.8" fill="none" stroke="#000" stroke-width="1.55" stroke-linejoin="round" stroke-linejoin="miter"/>
<line x1="253.2" y1="185" x2="253.2" y2="268.1" stroke="#000" stroke-width="3.6" stroke-linecap="butt"/>
<line x1="251.39999999999998" y1="266.3" x2="360.5" y2="266.3" stroke="#000" stroke-width="3.6" stroke-linecap="butt"/>
<text x="249.6" y="204.2" font-size="12" font-weight="bold" text-anchor="end" >2</text>
<text x="249.6" y="236.89999999999998" font-size="12" font-weight="bold" text-anchor="end" >1</text>
<text x="249.6" y="270.4" font-size="12" font-weight="bold" text-anchor="end" >0</text>
<line x1="260.8" y1="217" x2="296.2" y2="217" stroke="#000" stroke-width="2.4" stroke-linecap="butt"/>
<circle cx="280" cy="192.5" r="2.35" fill="#fff" stroke="#000" stroke-width="1.5"/>
<circle cx="285.8" cy="215.3" r="2.35" fill="#fff" stroke="#000" stroke-width="1.5"/>
<circle cx="280" cy="221" r="2.35" fill="#fff" stroke="#000" stroke-width="1.5"/>
<circle cx="280" cy="228.2" r="2.35" fill="#fff" stroke="#000" stroke-width="1.5"/>
<circle cx="280" cy="238.8" r="2.35" fill="#fff" stroke="#000" stroke-width="1.5"/>
<line x1="313.8" y1="245.5" x2="349.2" y2="245.5" stroke="#000" stroke-width="2.4" stroke-linecap="butt"/>
<circle cx="320" cy="242.5" r="2.35" fill="#fff" stroke="#000" stroke-width="1.5"/>
<circle cx="326.2" cy="245" r="2.35" fill="#fff" stroke="#000" stroke-width="1.5"/>
<circle cx="332.5" cy="248.6" r="2.35" fill="#fff" stroke="#000" stroke-width="1.5"/>
<circle cx="332.5" cy="255.8" r="2.35" fill="#fff" stroke="#000" stroke-width="1.5"/>
<circle cx="338.8" cy="243.6" r="2.35" fill="#fff" stroke="#000" stroke-width="1.5"/>
<text transform="translate(229.4,258.5) rotate(-90)" font-size="12" font-weight="bold" text-anchor="start" textLength="75.5" lengthAdjust="spacingAndGlyphs">T cells (x10<tspan font-size="7" dy="-4.5">-5</tspan><tspan dy="4.5">)</tspan></text>
<text x="450.8" y="183" font-size="20" font-weight="bold" text-anchor="middle" >*</text>
<path d="M424.2,198 L424.2,182.7 L479.2,182.7 L479.2,187.5" fill="none" stroke="#000" stroke-width="1.55" stroke-linejoin="round" stroke-linejoin="miter"/>
<line x1="402.6" y1="188.7" x2="402.6" y2="271.8" stroke="#000" stroke-width="3.6" stroke-linecap="butt"/>
<line x1="400.8" y1="270" x2="507.5" y2="270" stroke="#000" stroke-width="3.6" stroke-linecap="butt"/>
<text x="398" y="207.89999999999998" font-size="12" font-weight="bold" text-anchor="end" >10</text>
<text x="398" y="241.2" font-size="12" font-weight="bold" text-anchor="end" >5</text>
<text x="398" y="272.7" font-size="12" font-weight="bold" text-anchor="end" >0</text>
<line x1="410" y1="218.2" x2="445.5" y2="218.2" stroke="#000" stroke-width="2.4" stroke-linecap="butt"/>
<circle cx="429.2" cy="209.5" r="1.8" fill="#fff" stroke="#000" stroke-width="1.5"/>
<circle cx="435" cy="210.8" r="1.8" fill="#fff" stroke="#000" stroke-width="1.5"/>
<circle cx="422" cy="215.6" r="2.35" fill="#fff" stroke="#000" stroke-width="1.5"/>
<circle cx="428.8" cy="219.8" r="2.35" fill="#fff" stroke="#000" stroke-width="1.5"/>
<circle cx="428.8" cy="242.5" r="1.8" fill="#fff" stroke="#000" stroke-width="1.5"/>
<line x1="463" y1="202.5" x2="498" y2="202.5" stroke="#000" stroke-width="2.4" stroke-linecap="butt"/>
<circle cx="475" cy="191.8" r="1.8" fill="#fff" stroke="#000" stroke-width="1.5"/>
<circle cx="481.2" cy="196.8" r="2.35" fill="#fff" stroke="#000" stroke-width="1.5"/>
<circle cx="475" cy="207.6" r="1.8" fill="#fff" stroke="#000" stroke-width="1.5"/>
<circle cx="481.2" cy="210" r="2.35" fill="#fff" stroke="#000" stroke-width="1.5"/>
<circle cx="487.5" cy="210" r="2.35" fill="#fff" stroke="#000" stroke-width="1.5"/>
<line x1="427.6" y1="270" x2="427.6" y2="273" stroke="#000" stroke-width="2.2" stroke-linecap="butt"/>
<line x1="480.6" y1="270" x2="480.6" y2="273" stroke="#000" stroke-width="2.2" stroke-linecap="butt"/>
<line x1="255.4" y1="303" x2="255.4" y2="385.0" stroke="#000" stroke-width="3.6" stroke-linecap="butt"/>
<line x1="253.6" y1="383.2" x2="360.5" y2="383.2" stroke="#000" stroke-width="3.6" stroke-linecap="butt"/>
<text x="250.2" y="316.9" font-size="12" font-weight="bold" text-anchor="end" textLength="16.4" lengthAdjust="spacingAndGlyphs" >1.2</text>
<text x="250.2" y="339.4" font-size="12" font-weight="bold" text-anchor="end" textLength="16.4" lengthAdjust="spacingAndGlyphs" >0.8</text>
<text x="250.2" y="362.2" font-size="12" font-weight="bold" text-anchor="end" textLength="16.4" lengthAdjust="spacingAndGlyphs" >0.4</text>
<text x="250.2" y="386.9" font-size="12" font-weight="bold" text-anchor="end" textLength="16.4" lengthAdjust="spacingAndGlyphs" >0.0</text>
<line x1="262" y1="341" x2="297.5" y2="341" stroke="#000" stroke-width="2.4" stroke-linecap="butt"/>
<circle cx="281.2" cy="312.5" r="2.35" fill="#fff" stroke="#000" stroke-width="1.5"/>
<circle cx="281.2" cy="326.2" r="2.35" fill="#fff" stroke="#000" stroke-width="1.5"/>
<circle cx="281.2" cy="343.8" r="2.35" fill="#fff" stroke="#000" stroke-width="1.5"/>
<circle cx="281.2" cy="358" r="2.35" fill="#fff" stroke="#000" stroke-width="1.5"/>
<circle cx="281.2" cy="371.2" r="2.35" fill="#fff" stroke="#000" stroke-width="1.5"/>
<line x1="316.2" y1="367" x2="351.8" y2="367" stroke="#000" stroke-width="2.4" stroke-linecap="butt"/>
<circle cx="321.2" cy="365" r="1.8" fill="#fff" stroke="#000" stroke-width="1.5"/>
<circle cx="327.5" cy="368.2" r="1.8" fill="#fff" stroke="#000" stroke-width="1.5"/>
<circle cx="334.2" cy="370.8" r="1.8" fill="#fff" stroke="#000" stroke-width="1.5"/>
<circle cx="340.8" cy="370" r="1.8" fill="#fff" stroke="#000" stroke-width="1.5"/>
<circle cx="347" cy="366.8" r="2.35" fill="#fff" stroke="#000" stroke-width="1.5"/>
<text transform="translate(229.4,372.7) rotate(-90)" font-size="12" font-weight="bold" text-anchor="start" textLength="60" lengthAdjust="spacingAndGlyphs">pDC(x10<tspan font-size="7" dy="-4.5">-4</tspan><tspan dy="4.5">)</tspan></text>
<text x="268.8" y="398" font-size="12" font-weight="bold" text-anchor="start" textLength="23.8" lengthAdjust="spacingAndGlyphs" >PBS</text>
<text x="325.5" y="398" font-size="12" font-weight="bold" text-anchor="start" textLength="16.5" lengthAdjust="spacingAndGlyphs" >Flu</text>
<text x="458.9" y="294.8" font-size="20" font-weight="bold" text-anchor="middle" textLength="14.5" lengthAdjust="spacingAndGlyphs" >**</text>
<path d="M427.5,320 L427.5,293.2 L483,293.2 L483,298.8" fill="none" stroke="#000" stroke-width="1.55" stroke-linejoin="round" stroke-linejoin="miter"/>
<line x1="402.7" y1="302.5" x2="402.7" y2="385.0" stroke="#000" stroke-width="3.6" stroke-linecap="butt"/>
<line x1="400.9" y1="383.2" x2="507.5" y2="383.2" stroke="#000" stroke-width="3.6" stroke-linecap="butt"/>
<text x="397" y="303.2" font-size="12" font-weight="bold" text-anchor="end" >16</text>
<text x="397" y="324.4" font-size="12" font-weight="bold" text-anchor="end" >12</text>
<text x="395.2" y="345.4" font-size="12" font-weight="bold" text-anchor="end" >8</text>
<text x="395.2" y="365.2" font-size="12" font-weight="bold" text-anchor="end" >4</text>
<text x="395.2" y="385.7" font-size="12" font-weight="bold" text-anchor="end" >0</text>
<line x1="410" y1="342.3" x2="445.5" y2="342.3" stroke="#000" stroke-width="2.4" stroke-linecap="butt"/>
<circle cx="428.6" cy="335.6" r="2.35" fill="#fff" stroke="#000" stroke-width="1.5"/>
<circle cx="434.5" cy="333.5" r="1.8" fill="#fff" stroke="#000" stroke-width="1.5"/>
<circle cx="422.5" cy="344.8" r="1.8" fill="#fff" stroke="#000" stroke-width="1.5"/>
<circle cx="428.6" cy="347" r="2.35" fill="#fff" stroke="#000" stroke-width="1.5"/>
<circle cx="428.4" cy="358" r="1.8" fill="#fff" stroke="#000" stroke-width="1.5"/>
<line x1="463" y1="316.2" x2="498" y2="316.2" stroke="#000" stroke-width="2.4" stroke-linecap="butt"/>
<circle cx="475" cy="310.8" r="1.8" fill="#fff" stroke="#000" stroke-width="1.5"/>
<circle cx="487.5" cy="310.8" r="2.35" fill="#fff" stroke="#000" stroke-width="1.5"/>
<circle cx="481.2" cy="316.8" r="2.35" fill="#fff" stroke="#000" stroke-width="1.5"/>
<circle cx="487.5" cy="320.8" r="2.35" fill="#fff" stroke="#000" stroke-width="1.5"/>
<circle cx="481.2" cy="325.5" r="2.35" fill="#fff" stroke="#000" stroke-width="1.5"/>
<text x="418" y="398" font-size="12" font-weight="bold" text-anchor="start" textLength="23.3" lengthAdjust="spacingAndGlyphs" >PBS</text>
<text x="472.5" y="398" font-size="12" font-weight="bold" text-anchor="start" textLength="16.8" lengthAdjust="spacingAndGlyphs" >Flu</text>
<text x="1.2" y="433.8" font-size="19" font-weight="bold" text-anchor="start" >B</text>
<line x1="41.2" y1="455.8" x2="41.2" y2="566.6999999999999" stroke="#000" stroke-width="3.6" stroke-linecap="butt"/>
<line x1="39.400000000000006" y1="564.9" x2="167.3" y2="564.9" stroke="#000" stroke-width="3.6" stroke-linecap="butt"/>
<text x="36.2" y="457.9" font-size="11.2" font-weight="bold" text-anchor="end" textLength="15.8" lengthAdjust="spacingAndGlyphs" >0.5</text>
<text x="36.2" y="480" font-size="11.2" font-weight="bold" text-anchor="end" textLength="15.8" lengthAdjust="spacingAndGlyphs" >0.4</text>
<text x="36.2" y="501.8" font-size="11.2" font-weight="bold" text-anchor="end" textLength="15.8" lengthAdjust="spacingAndGlyphs" >0.3</text>
<text x="36.2" y="524.6" font-size="11.2" font-weight="bold" text-anchor="end" textLength="15.8" lengthAdjust="spacingAndGlyphs" >0.2</text>
<text x="36.2" y="546.8" font-size="11.2" font-weight="bold" text-anchor="end" textLength="15.8" lengthAdjust="spacingAndGlyphs" >0.1</text>
<text x="36.2" y="568.8" font-size="11.2" font-weight="bold" text-anchor="end" textLength="15.8" lengthAdjust="spacingAndGlyphs" >0.0</text>
<rect x="44.5" y="532.5" width="32.5" height="32.5" fill="#000"/>
<rect x="87" y="525.5" width="31.700000000000003" height="39.5" fill="#000"/>
<rect x="130" y="485.4" width="31.400000000000006" height="79.60000000000002" fill="#000"/>
<line x1="146" y1="486.4" x2="146" y2="471.3" stroke="#000" stroke-width="2.2" stroke-linecap="butt"/>
<line x1="138.3" y1="471.3" x2="151.5" y2="471.3" stroke="#000" stroke-width="2.2" stroke-linecap="butt"/>
<text x="146.1" y="471.3" font-size="20" font-weight="bold" text-anchor="middle" >*</text>
<text transform="translate(16.9,538.7) rotate(-90)" font-size="12" font-weight="bold" text-anchor="start" textLength="76" lengthAdjust="spacingAndGlyphs">B cells (x10<tspan font-size="7" dy="-4.5">-5</tspan><tspan dy="4.5">)</tspan></text>
<text x="35" y="583.8" font-size="11.5" font-weight="bold" text-anchor="start" textLength="40.8" lengthAdjust="spacingAndGlyphs" >Control</text>
<text x="97" y="583.8" font-size="11.5" font-weight="bold" text-anchor="start" textLength="12.8" lengthAdjust="spacingAndGlyphs" >8h</text>
<text x="133.4" y="583.8" font-size="11.5" font-weight="bold" text-anchor="start" textLength="18.4" lengthAdjust="spacingAndGlyphs" >18h</text>
<line x1="212.8" y1="455" x2="212.8" y2="566.5999999999999" stroke="#000" stroke-width="3.6" stroke-linecap="butt"/>
<line x1="211.0" y1="564.8" x2="338.7" y2="564.8" stroke="#000" stroke-width="3.6" stroke-linecap="butt"/>
<text x="208.5" y="474" font-size="11.2" font-weight="bold" text-anchor="end" textLength="15.8" lengthAdjust="spacingAndGlyphs" >0.6</text>
<text x="208.5" y="506" font-size="11.2" font-weight="bold" text-anchor="end" textLength="15.8" lengthAdjust="spacingAndGlyphs" >0.4</text>
<text x="208.5" y="536.6" font-size="11.2" font-weight="bold" text-anchor="end" textLength="15.8" lengthAdjust="spacingAndGlyphs" >0.2</text>
<text x="208.5" y="569.5" font-size="11.2" font-weight="bold" text-anchor="end" textLength="15.8" lengthAdjust="spacingAndGlyphs" >0.0</text>
<rect x="217.5" y="525.6" width="31.0" height="39.39999999999998" fill="#000"/>
<rect x="259.2" y="507.5" width="31.5" height="57.5" fill="#000"/>
<rect x="301.5" y="473" width="31.19999999999999" height="92" fill="#000"/>
<line x1="274.9" y1="508.5" x2="274.9" y2="501.6" stroke="#000" stroke-width="2.2" stroke-linecap="butt"/>
<line x1="268.09999999999997" y1="501.6" x2="281.7" y2="501.6" stroke="#000" stroke-width="2.2" stroke-linecap="butt"/>
<line x1="317.6" y1="474" x2="317.6" y2="467.4" stroke="#000" stroke-width="2.2" stroke-linecap="butt"/>
<line x1="310.6" y1="467.4" x2="324.6" y2="467.4" stroke="#000" stroke-width="2.2" stroke-linecap="butt"/>
<text x="318.8" y="465.6" font-size="20" font-weight="bold" text-anchor="middle" textLength="14.4" lengthAdjust="spacingAndGlyphs" >**</text>
<text transform="translate(189.9,536.6) rotate(-90)" font-size="12" font-weight="bold" text-anchor="start" textLength="73.5" lengthAdjust="spacingAndGlyphs">T cells (x10<tspan font-size="7" dy="-4.5">-5</tspan><tspan dy="4.5">)</tspan></text>
<text x="203.5" y="583.8" font-size="11.5" font-weight="bold" text-anchor="start" textLength="40.8" lengthAdjust="spacingAndGlyphs" >Control</text>
<text x="266" y="583.8" font-size="11.5" font-weight="bold" text-anchor="start" textLength="12.8" lengthAdjust="spacingAndGlyphs" >8h</text>
<text x="309" y="583.8" font-size="11.5" font-weight="bold" text-anchor="start" textLength="17.6" lengthAdjust="spacingAndGlyphs" >18h</text>
<line x1="391.5" y1="454.5" x2="391.5" y2="566.5999999999999" stroke="#000" stroke-width="3.6" stroke-linecap="butt"/>
<line x1="389.7" y1="564.8" x2="518.3" y2="564.8" stroke="#000" stroke-width="3.6" stroke-linecap="butt"/>
<text x="387.4" y="459.3" font-size="11.2" font-weight="bold" text-anchor="end" textLength="22" lengthAdjust="spacingAndGlyphs" >0.08</text>
<text x="387.4" y="487" font-size="11.2" font-weight="bold" text-anchor="end" textLength="22" lengthAdjust="spacingAndGlyphs" >0.06</text>
<text x="387.4" y="514.5" font-size="11.2" font-weight="bold" text-anchor="end" textLength="22" lengthAdjust="spacingAndGlyphs" >0.04</text>
<text x="387.4" y="542.2" font-size="11.2" font-weight="bold" text-anchor="end" textLength="22" lengthAdjust="spacingAndGlyphs" >0.02</text>
<text x="387.4" y="569.4" font-size="11.2" font-weight="bold" text-anchor="end" textLength="22" lengthAdjust="spacingAndGlyphs" >0.00</text>
<rect x="395.8" y="504.5" width="31.19999999999999" height="60.5" fill="#000"/>
<rect x="438" y="503.8" width="31.80000000000001" height="61.19999999999999" fill="#000"/>
<rect x="480.2" y="457" width="31.80000000000001" height="108" fill="#000"/>
<line x1="411.4" y1="505.5" x2="411.4" y2="503.4" stroke="#000" stroke-width="1.2" stroke-linecap="butt"/>
<line x1="406.4" y1="503.4" x2="416.4" y2="503.4" stroke="#000" stroke-width="1.2" stroke-linecap="butt"/>
<line x1="453.5" y1="504.8" x2="453.5" y2="494.2" stroke="#000" stroke-width="2.2" stroke-linecap="butt"/>
<line x1="446.0" y1="494.2" x2="461.0" y2="494.2" stroke="#000" stroke-width="2.2" stroke-linecap="butt"/>
<line x1="496" y1="458" x2="496" y2="453.6" stroke="#000" stroke-width="2" stroke-linecap="butt"/>
<line x1="489" y1="453.6" x2="503" y2="453.6" stroke="#000" stroke-width="2" stroke-linecap="butt"/>
<text x="497.4" y="454" font-size="20" font-weight="bold" text-anchor="middle" textLength="14.2" lengthAdjust="spacingAndGlyphs" >**</text>
<text transform="translate(361.2,530) rotate(-90)" font-size="12" font-weight="bold" text-anchor="start" textLength="60.5" lengthAdjust="spacingAndGlyphs">pDC(x10<tspan font-size="7" dy="-4.5">-4</tspan><tspan dy="4.5">)</tspan></text>
<text x="386.6" y="583.8" font-size="11.5" font-weight="bold" text-anchor="start" textLength="40" lengthAdjust="spacingAndGlyphs" >Control</text>
<text x="446.6" y="583.8" font-size="11.5" font-weight="bold" text-anchor="start" textLength="12.8" lengthAdjust="spacingAndGlyphs" >8h</text>
<text x="489.9" y="583.8" font-size="11.5" font-weight="bold" text-anchor="start" textLength="18" lengthAdjust="spacingAndGlyphs" >18h</text>
</svg>
</body></html>
